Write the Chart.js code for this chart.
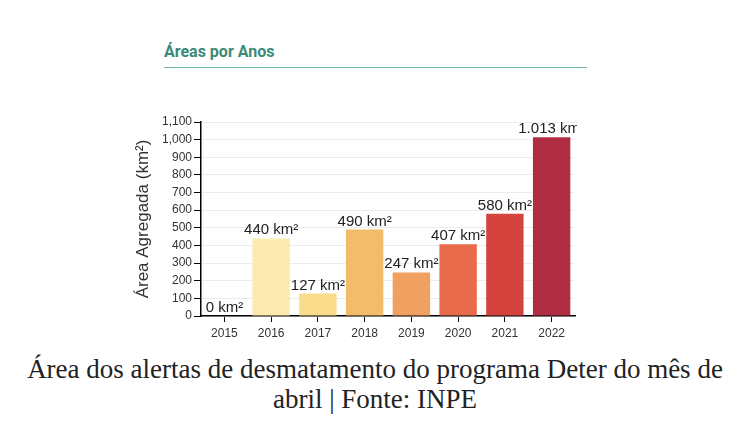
<!DOCTYPE html>
<html lang="pt">
<head>
    <meta charset="utf-8">
    <title>Áreas por Anos</title>
    <script src="https://cdn.jsdelivr.net/npm/chart.js@4.4.0/dist/chart.umd.min.js"></script>
    <style>
        body { margin: 0; background: #fff; width: 750px; height: 438px; position: relative; overflow: hidden; }
        .heading {
            position: absolute; left: 164px; top: 42px; width: 423px; line-height: 19px;
            font-family: Roboto, "Noto Sans", sans-serif; font-weight: bold; font-size: 16px;
            color: #3a8a78; padding-bottom: 6px; border-bottom: 1px solid #72b9a3;
        }
        .box { position: absolute; left: 0; top: 100px; width: 577px; height: 245px; }
        .caption {
            position: absolute; left: 0; top: 354px; width: 750px; text-align: center;
            font-family: "Liberation Serif", "DejaVu Serif", serif; font-size: 27px;
            line-height: 30px; color: #222;
        }
    </style>
</head>
<body>
<div class="heading">Áreas por Anos</div>
<div class="box"><canvas id="barChart"></canvas></div>
<div class="caption">Área dos alertas de desmatamento do programa Deter do mês de<br>abril | Fonte: INPE</div>
<script>
    const years = ["2015", "2016", "2017", "2018", "2019", "2020", "2021", "2022"];
    const areas = [0, 440, 127, 490, 247, 407, 580, 1013];
    const barColors = ["#fdf0c0", "#fcebb0", "#f8dc8c", "#f2bc6b", "#f0a061", "#e86b4b", "#d5433e", "#b12d43"];
    const yTitle = "Área Agregada (km²)";

    // "1.013 km²" style labels
    function areaLabel(v) {
        return v.toString().replace(/\B(?=(\d{3})+(?!\d))/g, ".") + " km²";
    }

    const valueLabels = {
        id: "valueLabels",
        afterDatasetsDraw(chart) {
            const ctx = chart.ctx;
            const meta = chart.getDatasetMeta(0);
            ctx.save();
            ctx.font = "15px 'Liberation Sans', Arial, sans-serif";
            ctx.fillStyle = "#222";
            ctx.textAlign = "center";
            ctx.textBaseline = "alphabetic";
            meta.data.forEach((bar, i) => {
                ctx.fillText(areaLabel(areas[i]), bar.x, bar.y - 4);
            });
            ctx.restore();
        }
    };

    let ctx = document.getElementById("barChart").getContext("2d");
    new Chart(ctx, {
        type: "bar",
        data: {
            labels: years,
            datasets: [{
                data: areas,
                backgroundColor: barColors,
                barPercentage: 0.8,
                categoryPercentage: 1.0
            }]
        },
        options: {
            responsive: true,
            maintainAspectRatio: false,
            animation: false,
            layout: { padding: { left: 130, right: 2, top: 22, bottom: 0 } },
            plugins: { legend: { display: false }, tooltip: { enabled: false } },
            scales: {
                x: {
                    afterFit: (scale) => { scale.height = 29; },
                    grid: { offset: false, drawOnChartArea: false, tickLength: 6, color: "#000", tickColor: "#000" },
                    border: { color: "#000", width: 1.5 },
                    ticks: { color: "#333", font: { size: 12, family: "'Liberation Sans', Arial, sans-serif" }, padding: 4, maxRotation: 0 }
                },
                y: {
                    min: 0,
                    max: 1100,
                    afterFit: (scale) => { scale.width = 71; },
                    grid: { color: "#ececec", tickColor: "#000", tickLength: 7 },
                    border: { color: "#000", width: 1.5 },
                    ticks: { stepSize: 100, color: "#333", font: { size: 12, family: "'Liberation Sans', Arial, sans-serif" }, padding: 2 },
                    title: {
                        display: true, text: yTitle, color: "#333",
                        font: { size: 17, family: "'Liberation Sans', Arial, sans-serif" },
                        padding: { top: 3, bottom: 0 }
                    }
                }
            }
        },
        plugins: [valueLabels]
    });
</script>
</body>
</html>
